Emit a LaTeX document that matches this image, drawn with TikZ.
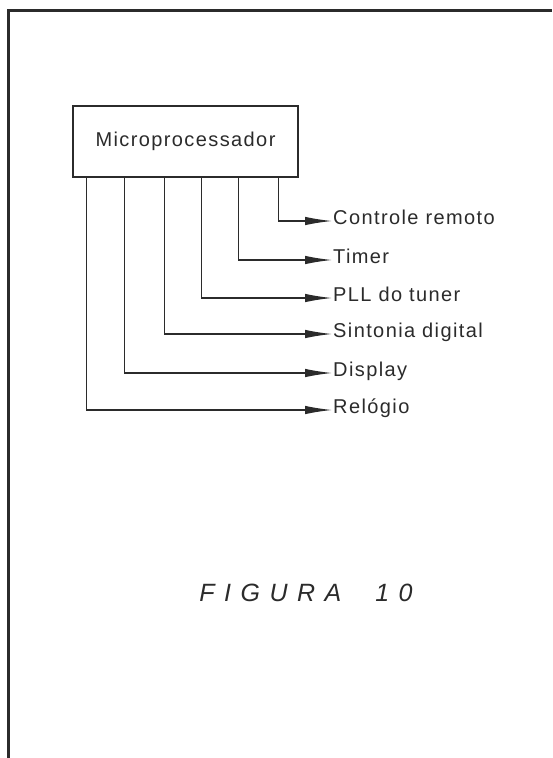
\documentclass[tikz,border=0pt]{standalone}
\usepackage{fontspec}
\setmainfont{Liberation Sans}
\usetikzlibrary{positioning, arrows.meta, calc}
\usepackage{xcolor}
\definecolor{tinta}{HTML}{2B2B2B}
\definecolor{papel}{HTML}{FFFFFF}
\newfontfamily\letreiro[LetterSpace=7]{Liberation Sans}
\newfontfamily\titulo[LetterSpace=38]{Liberation Sans}
\tikzset{
  bloco/.style={draw=tinta, line width=1.6pt, text=tinta,
                minimum width=225pt, minimum height=71pt},
  saida/.style={anchor=west, inner sep=1pt, text=tinta,
                text height=1.38ex, text depth=0pt},
  seta/.style={draw=tinta, line width=1.3pt,
               -{Latex[length=27pt,width=8.5pt]}},
  moldura/.style={draw=tinta, line width=3pt}
}

\begin{document}
\begin{tikzpicture}[x=1pt, y=-1pt, font=\letreiro\fontsize{20}{24}\selectfont]
        \useasboundingbox[fill=papel] (0,0) rectangle (552,758);
        % moldura da pagina
        \coordinate (mtopo) at (8,10);
        \coordinate (mdir) at (552,10);
        \coordinate (mbase) at (11,758);
        \draw[moldura] (mdir) -- (mtopo) -- (mtopo |- mbase);

        \node[bloco] (mp) at (185.5,141.5) {Microprocessador};

        % saidas
        \node[saida] (controle) at (332,221) {Controle remoto};
        \node[saida] (timer) at (332,260) {Timer};
        \node[saida] (pll) at (332,298) {PLL do tuner};
        \node[saida] (sintonia) at (332,334) {Sintonia digital};
        \node[saida] (display) at (332,373) {Display};
        \node[saida] (relogio) at (332,410) {Relógio};

        \draw[seta] ([xshift=206pt]mp.south west) |- (controle.west);
        \draw[seta] ([xshift=166pt]mp.south west) |- (timer.west);
        \draw[seta] ([xshift=129pt]mp.south west) |- (pll.west);
        \draw[seta] ([xshift=92pt]mp.south west) |- (sintonia.west);
        \draw[seta] ([xshift=52pt]mp.south west) |- (display.west);
        \draw[seta] ([xshift=14pt]mp.south west) |- (relogio.west);

        \node[text=tinta, font=\titulo\itshape\fontsize{25}{30}\selectfont]
              (fig) at (306,593) {FIGURA\hspace{34pt}10};
\end{tikzpicture}
\end{document}
